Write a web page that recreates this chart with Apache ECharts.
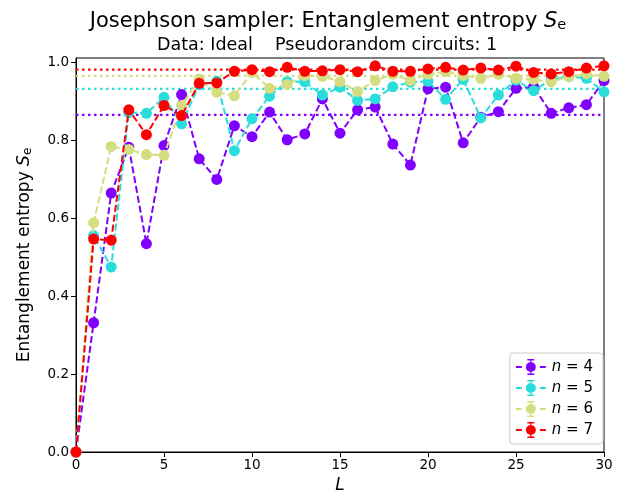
<!DOCTYPE html>
<html><head><meta charset="utf-8">
<script src="https://cdn.jsdelivr.net/npm/echarts@6/dist/echarts.min.js"></script>
<style>html,body{margin:0;padding:0;background:#fff}#c{width:628px;height:499px}</style>
</head><body><div id="c"></div>
<script>
const Lvals = [0,1,2,3,4,5,6,7,8,9,10,11,12,13,14,15,16,17,18,19,20,21,22,23,24,25,26,27,28,29,30];
const nValues = [4,5,6,7];
const colors = ['#8000ff','#2adddd','#d4dd80','#ff0000'];
const n4 = [0,0.332,0.665,0.783,0.535,0.787,0.918,0.753,0.700,0.838,0.810,0.873,0.802,0.817,0.907,0.819,0.879,0.886,0.791,0.737,0.933,0.937,0.794,0.860,0.874,0.934,0.938,0.870,0.884,0.892,0.954];
const n5 = [0,0.556,0.475,0.872,0.870,0.911,0.843,0.943,0.952,0.774,0.856,0.914,0.951,0.951,0.917,0.937,0.903,0.907,0.938,0.950,0.952,0.906,0.957,0.858,0.917,0.955,0.928,0.957,0.964,0.960,0.925];
const n6 = [0,0.589,0.785,0.777,0.764,0.762,0.890,0.958,0.924,0.915,0.975,0.934,0.944,0.967,0.965,0.951,0.926,0.954,0.970,0.954,0.970,0.977,0.967,0.960,0.970,0.960,0.957,0.951,0.964,0.971,0.965];
const n7 = [0,0.547,0.544,0.879,0.815,0.890,0.864,0.947,0.948,0.978,0.982,0.977,0.988,0.978,0.979,0.982,0.977,0.992,0.978,0.978,0.984,0.988,0.981,0.986,0.981,0.991,0.975,0.971,0.977,0.986,0.992];
const meanVals = [0.866,0.9325,0.966,0.982];
const yTicks = [0,0.2,0.4,0.6,0.8,1.0];
const xRange = [0, 30];
const allData = [n4,n5,n6,n7];

const FONT = 'DejaVu Sans';
const legendIcon = 'path://M0,7h6v2h-6z M24,7h6v2h-6z M10,8a5,5 0 1,1 10,0a5,5 0 1,1 -10,0z M14.4,0h1.2v16h-1.2z M11.5,0h7v1.5h-7z M11.5,14.5h7v1.5h-7z';

const meanSeries = nValues.map((n,i) => ({
  name: 'mean ' + n,
  type: 'line',
  data: xRange.map(x => [x, meanVals[i]]),
  symbol: 'none',
  silent: true,
  lineStyle: {color: colors[i], width: 2.2, type: [2.5, 3.5]},
  z: 2,
  animation: false
}));

const series = nValues.map((n,i) => ({
  name: 'n = ' + n,
  type: 'line',
  data: Lvals.map((L,j) => [L, allData[i][j]]),
  symbol: 'circle',
  symbolSize: 11,
  itemStyle: {color: colors[i]},
  lineStyle: {color: colors[i], width: 2, type: [7, 3]},
  z: 3 + i,
  animation: false
}));

const chart = echarts.init(document.getElementById('c'), null, {renderer: 'canvas'});
chart.setOption({
  animation: false,
  backgroundColor: '#fff',
  textStyle: {fontFamily: FONT},
  title: [
    {text: 'Josephson sampler: Entanglement entropy {i|S}{sub|e}', left: 323, top: 5, textAlign: 'center',
     textStyle: {fontFamily: FONT, fontSize: 21, fontWeight: 'normal', color: '#000',
       rich: {i: {fontFamily: FONT, fontSize: 21, fontStyle: 'italic', color: '#000'},
              sub: {fontFamily: FONT, fontSize: 14.5, color: '#000', verticalAlign: 'bottom', padding: [8,0,0,0]}}}},
    {text: 'Data: Ideal    Pseudorandom circuits: 1', left: 322, top: 31, textAlign: 'center',
     textStyle: {fontFamily: FONT, fontSize: 17.5, fontWeight: 'normal', color: '#000'}}
  ],
  grid: {left: 76, right: 24, top: 58, bottom: 47, show: true, borderColor: '#000', borderWidth: 1, backgroundColor: 'transparent'},
  xAxis: {
    type: 'value', min: 0, max: 30, interval: 5,
    name: '{i|L}', nameLocation: 'middle', nameGap: 25,
    nameTextStyle: {rich: {i: {fontFamily: FONT, fontSize: 17, fontStyle: 'italic', color: '#000'}}},
    axisLine: {show: true, lineStyle: {color: '#000', width: 1}},
    axisTick: {show: true, length: 5, lineStyle: {color: '#000'}},
    axisLabel: {color: '#000', fontSize: 13.5, fontFamily: FONT, margin: 6},
    splitLine: {show: false}
  },
  yAxis: {
    type: 'value', min: 0, max: 1.012,
    name: 'Entanglement entropy {i|S}{sub|e}', nameLocation: 'middle', nameGap: 42, nameRotate: 90,
    nameTextStyle: {fontFamily: FONT, fontSize: 17, color: '#000',
      rich: {i: {fontFamily: FONT, fontSize: 17, fontStyle: 'italic', color: '#000'},
             sub: {fontFamily: FONT, fontSize: 12, color: '#000', verticalAlign: 'bottom', padding: [6,0,0,0]}}},
    axisLine: {show: true, lineStyle: {color: '#000', width: 1}},
    axisTick: {show: true, length: 5, lineStyle: {color: '#000'}, customValues: yTicks},
    axisLabel: {color: '#000', fontSize: 13.5, fontFamily: FONT, margin: 7, customValues: yTicks, formatter: v => v.toFixed(1)},
    splitLine: {show: false}
  },
  legend: {
    orient: 'vertical', right: 25, bottom: 55,
    backgroundColor: '#fff', borderColor: '#ccc', borderWidth: 1, borderRadius: 3,
    padding: [6, 10, 6, 6], itemGap: 5, itemWidth: 32, itemHeight: 16,
    icon: legendIcon,
    data: series.map((s,i) => ({name: s.name, itemStyle: {color: colors[i]}})),
    formatter: name => '{i|n} = ' + name.split('= ')[1],
    textStyle: {fontFamily: FONT, fontSize: 15, color: '#000',
      rich: {i: {fontFamily: FONT, fontSize: 15, fontStyle: 'italic', color: '#000'}}}
  },
  series: meanSeries.concat(series)
});
</script></body></html>
